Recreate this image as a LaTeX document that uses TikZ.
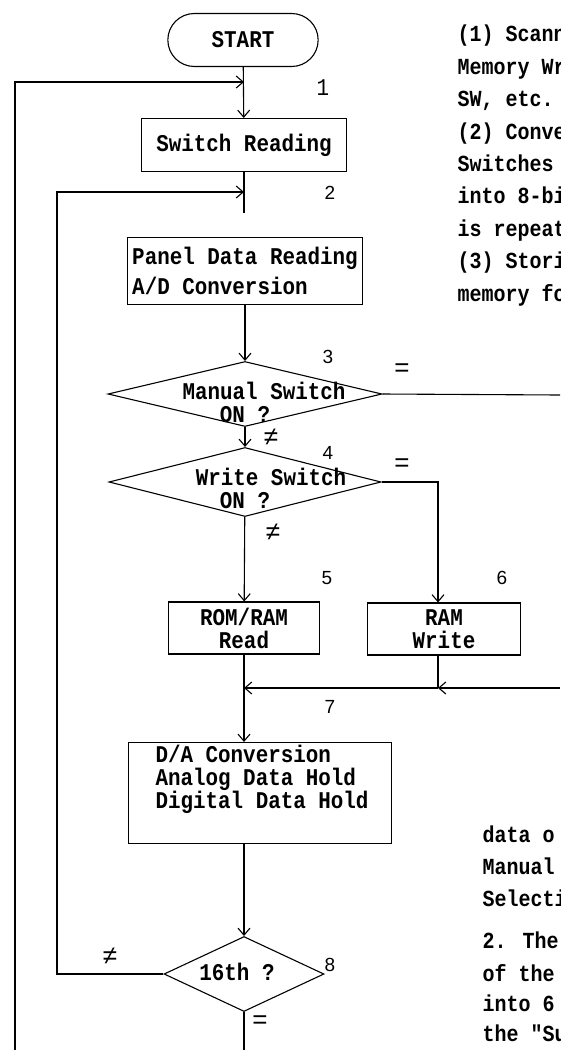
\documentclass[tikz,border=0pt]{standalone}
\usepackage{fontspec}
\setmainfont{Liberation Mono}
\newfontfamily\typefont{Liberation Mono}[FakeStretch=0.87]
\newfontfamily\numfont{Liberation Sans}
\usetikzlibrary{
  arrows.meta,      % Straight Barb 箭头
  shapes.geometric, % diamond 判断框
  shapes.misc       % rounded rectangle 起止框
}

\tikzset{
  flowtext/.style={font=\typefont\bfseries\fontsize{24}{23}\selectfont},
  term/.style={draw, rounded rectangle, flowtext, minimum width=157pt, minimum height=53pt},
  procbox/.style={draw, rectangle, flowtext, inner sep=3pt},
  decision/.style={draw, diamond, inner sep=0pt},
  dtext/.style={flowtext, inner sep=0pt},
  stepnum/.style={font=\numfont\fontsize{19}{19}\selectfont, inner sep=0pt},
  relsign/.style={font=\numfont\fontsize{26}{26}\selectfont, inner sep=0pt},
  sidetext/.style={font=\typefont\bfseries\fontsize{23}{22}\selectfont, inner sep=0pt, anchor=base west}
}

\begin{document}
\begin{tikzpicture}[x=1pt, y=-1pt, line width=1.1pt,
  >={Straight Barb[length=7pt, width=12pt]}]

  % =========== 画面范围 ===========
  \useasboundingbox (0,0) rectangle (560,1050);
  \clip (0,0) rectangle (560,1050);

  % =========== 流程框 ===========
  \node[term] (start) at (243,40) {START};
  \node[procbox, minimum width=205pt, minimum height=53pt] (swread) at (244,145) {Switch Reading};
  \node[procbox, minimum width=235pt, minimum height=67pt, align=left,
        font=\typefont\bfseries\fontsize{24}{30}\selectfont] (panel) at (245,271)
        {Panel Data Reading\\A/D Conversion};

  % 判断 3：手动开关
  \node[decision, minimum width=274pt, minimum height=65pt] (d3) at (245,394) {};
  \node[dtext] (d3a) at (264,391) {Manual Switch};
  \node[dtext] (d3b) at (245,415) {ON ?};

  % 判断 4：写开关
  \node[decision, minimum width=272pt, minimum height=69pt] (d4) at (245,482) {};
  \node[dtext] (d4a) at (271,477) {Write Switch};
  \node[dtext] (d4b) at (245,501) {ON ?};

  % 5、6：读 / 写
  \node[procbox, minimum width=151pt, minimum height=52pt, align=center] (rom) at (244,628) {ROM/RAM\\Read};
  \node[procbox, minimum width=153pt, minimum height=52pt, align=center] (ramw) at (444,629) {RAM\\Write};

  % 7：D/A 转换
  \node[draw, rectangle, minimum width=263pt, minimum height=101pt] (da) at (260,793) {};
  \node[dtext, anchor=west, align=left] (datxt) at (155,779)
        {D/A Conversion\\Analog Data Hold\\Digital Data Hold};

  % 判断 8：第 16 次
  \node[decision, minimum width=160pt, minimum height=75pt] (d8) at (244,974) {};
  \node[dtext] (d8a) at (237,972) {16th ?};

  % =========== 连接点 ===========
  \coordinate (c1) at (244,82);
  \coordinate (c2) at (244,192);
  \coordinate (c2end) at (244,213);
  \coordinate (e3) at (560,395);
  \coordinate (b4) at (438,482);
  \coordinate (j7) at (244,688);
  \coordinate (j6) at (438,688);
  \coordinate (e7) at (560,688);
  \coordinate (x2) at (57,192);
  \coordinate (e8) at (244,1050);
  \coordinate (x1) at (15,1050);
  \coordinate (x1top) at (15,82);

  % =========== 连线 ===========
  \draw[->] (start) -- (swread);
  \draw (swread) -- (c2end);
  \draw[->] (panel) -- (d3);
  \draw (d3.east) -- (e3);
  \draw[->] (d3) -- (d4);
  \draw[->] (d4.east) -- (b4) -- (b4 |- ramw.north);
  \draw[->] (d4) -- (rom);
  \draw (rom) -- (j7);
  \draw (b4 |- ramw.south) -- (j6);
  \draw[->] (e7) -- (j6);
  \draw[->] (j6) -- (j7);
  \draw[->] (j7) -- (j7 |- da.north);
  \draw[->] (j7 |- da.south) -- (d8);
  \draw (d8) -- (e8);
  \draw[->] (d8.west) -- (d8.west -| x2) -- (x2) -- (c2);
  \draw[->] (x1) -- (x1top) -- (c1);

  % =========== 步骤编号与判断符号 ===========
  \node[flowtext, font=\typefont\fontsize{24}{24}\selectfont, inner sep=0pt] (n1) at (323,88) {1};
  \node[stepnum] (n2) at (330,193) {2};
  \node[stepnum] (n3) at (328,357) {3};
  \node[stepnum] (n4) at (328,453) {4};
  \node[stepnum] (n5) at (327,578) {5};
  \node[stepnum] (n6) at (502,578) {6};
  \node[stepnum] (n7) at (330,707) {7};
  \node[stepnum] (n8) at (330,965) {8};
  \node[relsign] (eq3) at (402,370) {=};
  \node[relsign] (eq4) at (402,465) {=};
  \node[relsign] (eq8) at (260,1022) {=};
  \node[relsign] (ne3) at (271,437) {≠};
  \node[relsign] (ne4) at (273,532) {≠};
  \node[relsign] (ne8) at (110,956) {≠};

  % =========== 右侧说明文字（被裁切） ===========
  \foreach [count=\i] \y/\t in {41/{(1) Scann}, 74/{Memory Wr}, 106/{SW, etc.},
      139/{(2) Conve}, 171/{Switches}, 203/{into 8-bi}, 236/{is repeat},
      268/{(3) Stori}, 301/{memory fo}}
    \node[sidetext] (top\i) at (457,\y) {\t};
  \foreach [count=\i] \y/\t in {842/{data o}, 874/{Manual}, 906/{Selecti},
      948/{2. The}, 981/{of the}, 1011/{into 6}, 1041/{the "Su}}
    \node[sidetext] (bot\i) at (482,\y) {\t};

\end{tikzpicture}
\end{document}
